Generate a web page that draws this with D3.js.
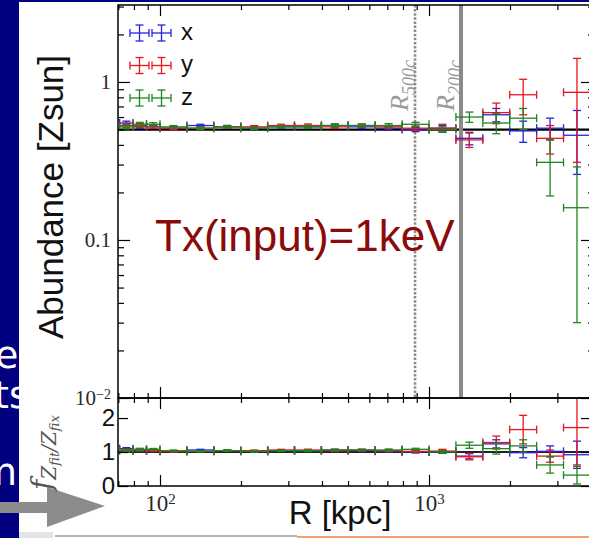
<!DOCTYPE html>
<html>
<head>
<meta charset="utf-8">
<style>
body { margin: 0; background: #fff; }
svg { display: block; }
</style>
</head>
<body>
<svg width="589" height="538"></svg>
<script src="https://cdn.jsdelivr.net/npm/d3@7/dist/d3.min.js"></script>
<script>
// radial bins [kpc]
const binEdges = [70.8, 79.4, 89.1, 100, 125.9, 158.5, 199.5, 251.2, 316.2, 398.1, 501.2, 631.0, 794.3, 1000, 1258.9, 1584.9, 1995.3, 2511.9, 3162.3, 3981.1];

const seriesNames = ["x", "y", "z"];
const seriesColors = ["#2323e0", "#e8141e", "#1f841f"];

// abundance per projection [Zsun]
const abundX = [0.55, 0.52, 0.52, 0.51, 0.53, 0.52, 0.51, 0.52, 0.52, 0.53, 0.52, 0.51, 0.50, 0.51, 0.44, 0.62, 0.49, 0.51, 0.46];
const errX   = [0.015, 0.012, 0.012, 0.01, 0.01, 0.01, 0.01, 0.01, 0.01, 0.012, 0.012, 0.012, 0.015, 0.02, 0.04, 0.06, 0.075, 0.08, 0.20];
const abundY = [0.53, 0.53, 0.52, 0.51, 0.51, 0.52, 0.52, 0.53, 0.53, 0.52, 0.53, 0.52, 0.51, 0.51, 0.43, 0.64, 0.83, 0.44, 0.86];
const errY   = [0.015, 0.015, 0.012, 0.01, 0.01, 0.01, 0.01, 0.01, 0.012, 0.012, 0.012, 0.012, 0.015, 0.03, 0.045, 0.095, 0.21, 0.09, 0.55];
const abundZ = [0.52, 0.54, 0.54, 0.52, 0.51, 0.52, 0.51, 0.52, 0.52, 0.53, 0.53, 0.53, 0.54, 0.50, 0.60, 0.55, 0.59, 0.31, 0.16];
const errZ   = [0.015, 0.015, 0.012, 0.01, 0.01, 0.01, 0.01, 0.01, 0.012, 0.012, 0.012, 0.015, 0.015, 0.02, 0.045, 0.08, 0.09, 0.12, 0.13];

const zFix = 0.5;      // input abundance
const r500c = 887;     // kpc
const r200c = 1315;    // kpc

const yMajorTop = [0.01, 0.1, 1];
const yMajorBot = [0, 1, 2];
const xMajor = [100, 1000];

const svg = d3.select("svg");
svg.append("rect").attr("width", 589).attr("height", 538).attr("fill", "#fff");

// ---- slide around the figure ----
svg.append("rect").attr("x", 0).attr("y", 0).attr("width", 19).attr("height", 538).attr("fill", "#000080");
svg.append("rect").attr("x", 0).attr("y", 0).attr("width", 589).attr("height", 2).attr("fill", "#000080");
[["e", 18.5, 368, "end"], ["ts", -6, 408, "start"], ["m", 17, 485, "end"]].forEach(([t, tx, ty, anc]) => {
  svg.append("text").attr("x", tx).attr("y", ty).attr("text-anchor", anc)
    .attr("font-family", "DejaVu Sans").attr("font-size", 38).attr("fill", "#fff").text(t);
});
svg.append("rect").attr("x", 19).attr("y", 340).attr("width", 20).attr("height", 160).attr("fill", "#fff");
svg.append("rect").attr("x", 19).attr("y", 532).attr("width", 34).attr("height", 6).attr("fill", "#e4e4e4");
svg.append("line").attr("x1", 55).attr("x2", 297).attr("y1", 536).attr("y2", 536).attr("stroke", "#9a9a9a").attr("stroke-width", 1.5);
svg.append("line").attr("x1", 297).attr("x2", 589).attr("y1", 537).attr("y2", 537).attr("stroke", "#f2a070").attr("stroke-width", 2);
svg.append("path").attr("fill", "#8c8c8c")
  .attr("d", "M0,502 L47,502 L47,487 L105,506 L47,527 L47,513 L0,513 Z");

// ---- chart geometry ----
const pL = 118, pR = 595, pT = 5, pM = 398, pB = 486;

const x = d3.scaleLog().domain([69.8, 4140]).range([pL, pR]);
const yTop = d3.scaleLog().domain([0.01, 3.07]).range([pM, pT]);
const yBot = d3.scaleLinear().domain([0, 2.59]).range([pB, pM]);

const defs = svg.append("defs");
defs.append("clipPath").attr("id", "clipTop").append("rect")
  .attr("x", pL).attr("y", pT).attr("width", pR - pL).attr("height", pM - pT);
defs.append("clipPath").attr("id", "clipBot").append("rect")
  .attr("x", pL).attr("y", pM).attr("width", pR - pL).attr("height", pB - pM);

const gTop = svg.append("g").attr("clip-path", "url(#clipTop)");
const gBot = svg.append("g").attr("clip-path", "url(#clipBot)");

// reference lines
gTop.append("line").attr("x1", pL).attr("x2", pR).attr("y1", yTop(zFix)).attr("y2", yTop(zFix))
  .attr("stroke", "#000").attr("stroke-width", 2.2);
gBot.append("line").attr("x1", pL).attr("x2", pR).attr("y1", yBot(1)).attr("y2", yBot(1))
  .attr("stroke", "#222").attr("stroke-width", 1.8);

// R500c / R200c labels + lines
function rLabel(r, sub) {
  const px = x(r);
  const t = gTop.append("text").attr("transform", `translate(${px - 7},111) rotate(-90)`)
    .attr("font-family", "Liberation Serif").attr("font-style", "italic").attr("fill", "#9a9a9a");
  t.append("tspan").attr("font-size", 26).text("R");
  t.append("tspan").attr("font-size", 18).attr("dy", 7).text(sub);
}
rLabel(r500c, "500c");
rLabel(r200c, "200c");
gTop.append("line").attr("x1", x(r500c)).attr("x2", x(r500c)).attr("y1", pT).attr("y2", pM)
  .attr("stroke", "#8e8e8e").attr("stroke-width", 2.6).attr("stroke-dasharray", "2.5,1.6");
gTop.append("line").attr("x1", x(r200c)).attr("x2", x(r200c)).attr("y1", pT).attr("y2", pM)
  .attr("stroke", "#8a8a8a").attr("stroke-width", 4);

// error bars
const bins = d3.range(binEdges.length - 1).map(i => ({lo: binEdges[i], hi: binEdges[i + 1]}));
const series = [abundX, abundY, abundZ].map((vals, s) => ({
  color: seriesColors[s],
  pts: bins.map((b, i) => ({lo: b.lo, hi: b.hi, v: vals[i], e: [errX, errY, errZ][s][i]}))
}));

function drawErr(g, ys, pts, color, k) {
  const cap = 4;
  const gg = g.append("g").attr("stroke", color).attr("stroke-width", 1.3).attr("fill", "none");
  pts.forEach(p => {
    const cx = x(Math.sqrt(p.lo * p.hi));
    const cy = ys(p.v / k);
    const y1 = ys(Math.max(p.v - p.e, 1e-4) / k), y2 = ys((p.v + p.e) / k);
    const x1 = x(p.lo), x2 = x(p.hi);
    gg.append("line").attr("x1", x1).attr("x2", x2).attr("y1", cy).attr("y2", cy);
    gg.append("line").attr("x1", cx).attr("x2", cx).attr("y1", y1).attr("y2", y2);
    [x1, x2].forEach(xx => gg.append("line").attr("x1", xx).attr("x2", xx).attr("y1", cy - cap).attr("y2", cy + cap));
    [y1, y2].forEach(yy => gg.append("line").attr("x1", cx - cap).attr("x2", cx + cap).attr("y1", yy).attr("y2", yy));
  });
}
series.forEach(s => drawErr(gTop, yTop, s.pts, s.color, 1));
series.forEach(s => drawErr(gBot, yBot, s.pts, s.color, zFix));

// ---- axes ----
const xMinor = x.ticks().filter(d => !xMajor.includes(d));
const yMinorTop = yTop.ticks().filter(d => !yMajorTop.some(m => Math.abs(m - d) < 1e-9));

function tickAxis(axis, tr, size, padding) {
  const g = svg.append("g").attr("transform", tr).call(axis.tickSize(size).tickPadding(padding));
  g.select(".domain").remove();
  g.selectAll(".tick line").attr("stroke", "#000").attr("stroke-width", 1.2);
  return g;
}

// top panel
const yl = tickAxis(d3.axisLeft(yTop).tickValues(yMajorTop).tickFormat(d => d === 1 ? "1" : d === 0.1 ? "0.1" : "10"),
  `translate(${pL},0)`, -12, 7);
yl.attr("font-family", "Liberation Serif").attr("font-size", 21);
yl.selectAll(".tick text").attr("fill", "#2a2a2a").each(function(d) {
  if (d === 0.01) d3.select(this).append("tspan").attr("dy", "-0.45em").attr("font-size", 14).text("\u22122");
});
tickAxis(d3.axisLeft(yTop).tickValues(yMinorTop).tickFormat(""), `translate(${pL},0)`, -6, 0);
tickAxis(d3.axisRight(yTop).tickValues(yMajorTop).tickFormat(""), `translate(${pR},0)`, -14, 0);
tickAxis(d3.axisRight(yTop).tickValues(yMinorTop).tickFormat(""), `translate(${pR},0)`, -7, 0);
tickAxis(d3.axisTop(x).tickValues(xMajor).tickFormat(""), `translate(0,${pT})`, -11, 0);
tickAxis(d3.axisTop(x).tickValues(xMinor).tickFormat(""), `translate(0,${pT})`, -5, 0);
tickAxis(d3.axisBottom(x).tickValues(xMajor).tickFormat(""), `translate(0,${pM})`, -11, 0);
tickAxis(d3.axisBottom(x).tickValues(xMinor).tickFormat(""), `translate(0,${pM})`, -5, 0);

// bottom panel
const yb = tickAxis(d3.axisLeft(yBot).tickValues(yMajorBot).tickFormat(d3.format("d")), `translate(${pL},0)`, -10, 3);
yb.attr("font-family", "Liberation Sans").attr("font-size", 24);
yb.selectAll(".tick text").attr("fill", "#111");
tickAxis(d3.axisRight(yBot).tickValues(yMajorBot).tickFormat(""), `translate(${pR},0)`, -14, 0);
tickAxis(d3.axisTop(x).tickValues(xMajor).tickFormat(""), `translate(0,${pM})`, -11, 0);
tickAxis(d3.axisTop(x).tickValues(xMinor).tickFormat(""), `translate(0,${pM})`, -5, 0);
const xb = tickAxis(d3.axisBottom(x).tickValues(xMajor).tickFormat(() => "10"), `translate(0,${pB})`, -11, 9);
xb.attr("font-family", "Liberation Serif").attr("font-size", 23);
xb.selectAll(".tick text").attr("fill", "#2a2a2a").each(function(d) {
  d3.select(this).append("tspan").attr("dy", "-0.5em").attr("font-size", 15).text(Math.round(Math.log10(d)));
});
tickAxis(d3.axisBottom(x).tickValues(xMinor).tickFormat(""), `translate(0,${pB})`, -5, 0);

// spines
[[pT, pM], [pM, pB]].forEach(([a, b]) => {
  svg.append("rect").attr("x", pL).attr("y", a).attr("width", pR - pL).attr("height", b - a)
    .attr("fill", "none").attr("stroke", "#000").attr("stroke-width", 1.5);
});

// ---- legend ----
const leg = svg.append("g");
seriesNames.forEach((name, i) => {
  const ly = 33 + i * 32.5;
  const g = leg.append("g").attr("stroke", seriesColors[i]).attr("stroke-width", 1.3);
  [139.5, 161.5].forEach(cx => {
    g.append("line").attr("x1", cx - 9.5).attr("x2", cx + 9.5).attr("y1", ly).attr("y2", ly);
    g.append("line").attr("x1", cx).attr("x2", cx).attr("y1", ly - 8).attr("y2", ly + 8);
    [cx - 9.5, cx + 9.5].forEach(xx => g.append("line").attr("x1", xx).attr("x2", xx).attr("y1", ly - 4).attr("y2", ly + 4));
    [ly - 8, ly + 8].forEach(yy => g.append("line").attr("x1", cx - 4).attr("x2", cx + 4).attr("y1", yy).attr("y2", yy));
  });
  leg.append("text").attr("x", 181).attr("y", ly + 6.5).attr("font-family", "Liberation Sans")
    .attr("font-size", 24).attr("fill", "#111").text(name);
});

// ---- text ----
svg.append("text").attr("x", 155).attr("y", 251).attr("font-family", "Liberation Sans")
  .attr("font-size", 44).attr("fill", "#8b0a0a").text("Tx(input)=1keV");

svg.append("text").attr("transform", "translate(63,197) rotate(-90)").attr("text-anchor", "middle")
  .attr("font-family", "Liberation Sans").attr("font-size", 35).attr("fill", "#111").text("Abundance [Zsun]");

svg.append("text").attr("x", 340).attr("y", 524).attr("text-anchor", "middle")
  .attr("font-family", "Liberation Sans").attr("font-size", 33).attr("fill", "#111").text("R [kpc]");

const fl = svg.append("text").attr("transform", "translate(51,490) rotate(-90)")
  .attr("font-family", "DejaVu Serif").attr("font-style", "italic").attr("fill", "#555");
fl.append("tspan").attr("font-size", 28).text("f");
fl.append("tspan").attr("font-size", 20).attr("dy", 5).text("Z");
fl.append("tspan").attr("font-size", 13).attr("dy", 3).text("fit");
fl.append("tspan").attr("font-size", 20).attr("dy", -3).text("/Z");
fl.append("tspan").attr("font-size", 13).attr("dy", 3).text("fix");
</script>
</body>
</html>
